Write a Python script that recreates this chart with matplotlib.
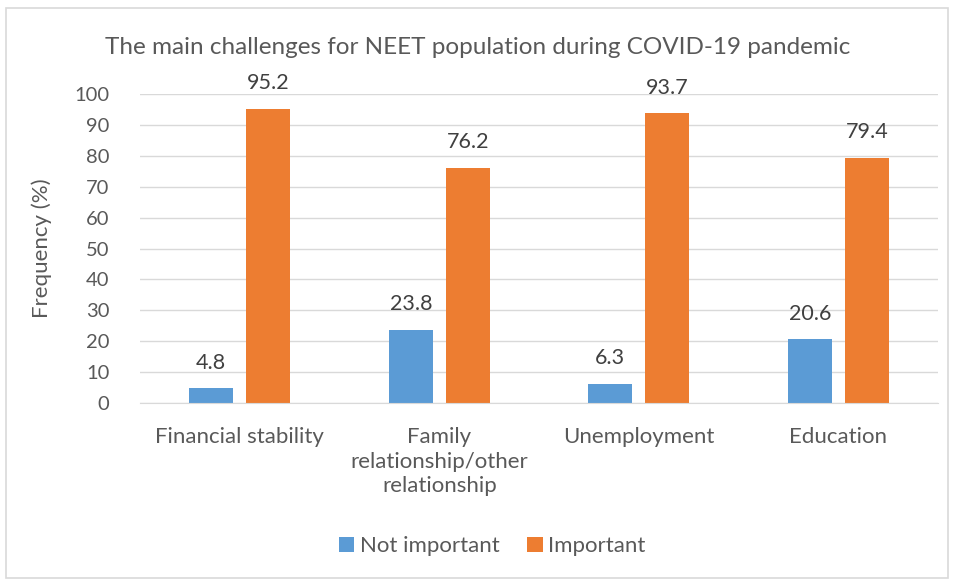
import numpy as np
import matplotlib.pyplot as plt
from matplotlib.patches import Rectangle

plt.rcParams['font.family'] = ['Lato', 'DejaVu Sans']

categories = ["Financial stability", "Family\nrelationship/other\nrelationship",
              "Unemployment", "Education"]
not_important = [4.8, 23.8, 6.3, 20.6]
important = [95.2, 76.2, 93.7, 79.4]

blue = "#5b9bd5"
orange = "#ed7d31"
txt = "#595959"

fig = plt.figure(figsize=(9.56, 5.8), dpi=100)
ax = fig.add_axes([0.1464, 0.305, 0.835, 0.533])

# outer chart border
fig.patches.append(Rectangle((0.006, 0.004), 0.986, 0.982, transform=fig.transFigure,
                             fill=False, edgecolor="#d9d9d9", linewidth=1.2))

x = np.arange(len(categories))
w = 0.22
off = 0.143
b1 = ax.bar(x - off, not_important, w, color=blue, label="Not important")
b2 = ax.bar(x + off, important, w, color=orange, label="Important")

for bars, vals in ((b1, not_important), (b2, important)):
    for b, v in zip(bars, vals):
        ax.text(b.get_x() + b.get_width() / 2, v + 5, f"{v:.1f}",
                ha="center", va="bottom", fontsize=15.5, color="#404040")

ax.set_xlim(-0.5, 3.5)
ax.set_ylim(0, 100)
ax.set_yticks(range(0, 101, 10))
ax.yaxis.grid(True, color="#d9d9d9", linewidth=1)
ax.set_axisbelow(True)
for s in ["top", "right", "left"]:
    ax.spines[s].set_visible(False)
ax.spines["bottom"].set_color("#d9d9d9")
ax.tick_params(axis="y", length=0, labelsize=14.5, labelcolor=txt, pad=22)
ax.tick_params(axis="x", length=0, labelsize=16, labelcolor=txt, pad=17)
ax.set_xticks(x)
ax.set_xticklabels(categories, linespacing=1.3)

ax.set_ylabel("Frequency (%)", fontsize=16, color=txt, labelpad=16)
fig.text(0.5, 0.918, "The main challenges for NEET population during COVID-19 pandemic",
         ha="center", va="center", fontsize=17.5, color=txt)

fig.legend(loc="center", bbox_to_anchor=(0.515, 0.058), ncol=2, frameon=False,
           fontsize=16, labelcolor=txt, handlelength=0.68, handleheight=0.68,
           handletextpad=0.25, columnspacing=1.25)

fig.savefig("out.png", dpi=100)
